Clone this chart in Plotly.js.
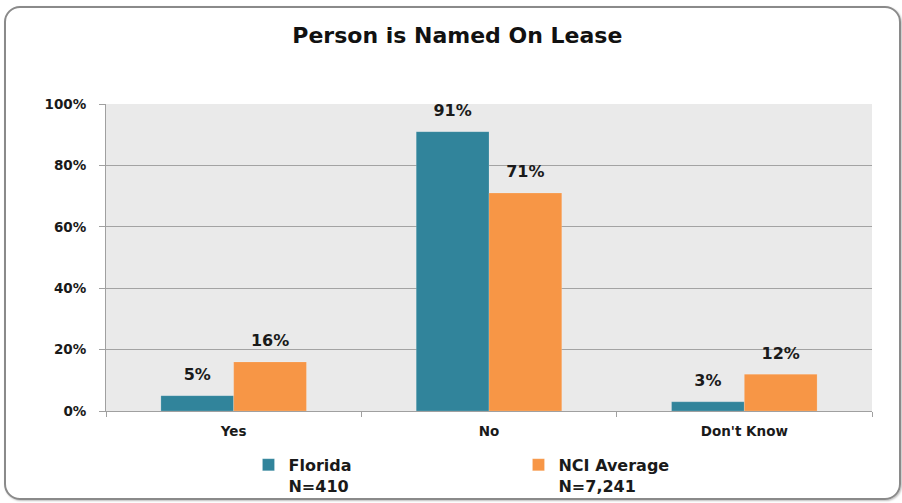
<!DOCTYPE html>
<html>
<head>
<meta charset="utf-8">
<script src="https://cdn.plot.ly/plotly-3.0.1.min.js"></script>
<style>
  html, body { margin: 0; padding: 0; background: #ffffff; }
  #wrap { position: relative; width: 902px; height: 503px; }
  #frame { position: absolute; left: 4px; top: 6px; width: 893px; height: 490px;
           border: 2px solid #8a8a8a; border-radius: 16px; box-shadow: 1px 1px 2px rgba(0,0,0,0.25); }
  #chart { position: absolute; left: 0; top: 0; width: 902px; height: 503px; }
</style>
</head>
<body>
<div id="wrap"><div id="frame"></div><div id="chart"></div></div>
<script>
const categories = ["Yes", "No", "Don't Know"];
const floridaValues = [5, 91, 3];
const nciValues = [16, 71, 12];
const seriesNames = ["Florida<br>N=410", "NCI Average<br>N=7,241"];
const yTicks = [0, 20, 40, 60, 80, 100];
const titleText = "Person is Named On Lease";

const teal = "#31849B";
const orange = "#F79646";
const FONT = "DejaVu Sans, Verdana, sans-serif";

function barTrace(name, vals, color, grp) {
  return {
    type: "bar", x: categories, y: vals, name: name,
    marker: { color: color, line: { color: "rgba(255,255,255,0.35)", width: 0.5 } },
    offsetgroup: grp, alignmentgroup: "a",
    hoverinfo: "skip"
  };
}
function labelTrace(vals, grp) {
  return {
    type: "scatter", mode: "markers+text", x: categories, y: vals,
    text: vals.map(v => v + "%"), textposition: "top center",
    textfont: { family: FONT, size: 16, color: "#1a1a1a", weight: "bold" },
    marker: { size: 17, opacity: 0 },
    offsetgroup: grp, alignmentgroup: "a",
    showlegend: false, hoverinfo: "skip", cliponaxis: false
  };
}

const data = [
  barTrace(seriesNames[0], floridaValues, teal, "f"),
  barTrace(seriesNames[1], nciValues, orange, "n"),
  labelTrace(floridaValues, "f"),
  labelTrace(nciValues, "n")
];

const layout = {
  width: 902, height: 503,
  margin: { l: 106, r: 30, t: 104, b: 92, autoexpand: false },
  paper_bgcolor: "rgba(0,0,0,0)",
  plot_bgcolor: "#EAEAEA",
  barmode: "group", bargap: 0.43, bargroupgap: 0,
  scattermode: "group", scattergap: 0.43,
  title: {
    text: titleText, x: 0.507, xanchor: "center", y: 0.93, yanchor: "middle", yref: "container",
    font: { family: FONT, size: 22, color: "#111", weight: "bold" }
  },
  xaxis: {
    type: "category", showgrid: false, showline: true, linecolor: "#A0A0A0", linewidth: 1,
    ticks: "outside", tickson: "boundaries", ticklen: 5, tickcolor: "#A0A0A0",
    ticklabelstandoff: 8,
    tickfont: { family: FONT, size: 13.5, color: "#1a1a1a", weight: "bold" },
    fixedrange: true
  },
  yaxis: {
    range: [0, 100], tickvals: yTicks, ticktext: yTicks.map(v => v + "%"),
    showgrid: true, gridcolor: "#A3A3A3", gridwidth: 1,
    showline: true, linecolor: "#A0A0A0", linewidth: 1, zeroline: false,
    ticks: "outside", ticklen: 6, tickcolor: "#A0A0A0",
    ticklabelstandoff: 10,
    tickfont: { family: FONT, size: 13.5, color: "#1a1a1a", weight: "bold" },
    fixedrange: true
  },
  showlegend: true,
  legend: {
    orientation: "h", x: 0.186, xanchor: "left", y: -0.12, yanchor: "top",
    valign: "top", entrywidth: 225, entrywidthmode: "pixels",
    font: { family: FONT, size: 16, color: "#1a1a1a", weight: "bold" },
    bgcolor: "rgba(0,0,0,0)", traceorder: "normal"
  }
};

Plotly.newPlot("chart", data, layout, { displayModeBar: false, staticPlot: true });
</script>
</body>
</html>
